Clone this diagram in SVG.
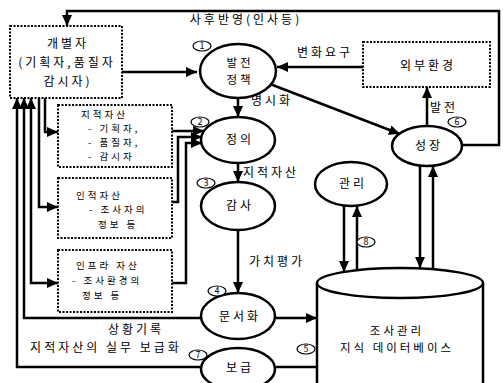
<svg xmlns="http://www.w3.org/2000/svg" width="503" height="383" viewBox="0 0 503 383">
<defs>
<marker id="ah" markerUnits="userSpaceOnUse" markerWidth="11" markerHeight="10" refX="11" refY="5" orient="auto-start-reverse">
<path d="M0,0 L11,5 L0,10 z" fill="#000"/>
</marker>
<style>
.ln{stroke:#000;stroke-width:2.5;fill:none}
.ar{stroke:#000;stroke-width:2.5;fill:none;marker-end:url(#ah)}
.ar2{stroke:#000;stroke-width:2.5;fill:none;marker-start:url(#ah);marker-end:url(#ah)}
.dot{stroke:#000;stroke-width:2;stroke-dasharray:2 1.5;fill:#fff}
.el{stroke:#000;stroke-width:2.5;fill:#fff}
.num{stroke:#000;stroke-width:1.2;fill:#fff}
text{font-family:"Noto Sans CJK KR","Noto Sans",sans-serif;fill:#000}
.t{font-size:12px;text-anchor:middle;letter-spacing:3px}
.t2{font-size:11.5px;text-anchor:middle;letter-spacing:3px}
.s{font-size:9.5px;letter-spacing:3px}
.n{font-size:9px;text-anchor:middle}
</style>
</defs>
<rect width="503" height="383" fill="#fff"/>

<g id="connectors">
<path class="ar" d="M122,72 H197"/>
<path class="ar" d="M363,67 H277"/>
<path class="ar" d="M270,84 L400,134"/>
<path class="ar" d="M238,98 V117"/>
<path class="ar" d="M238,163 V182"/>
<path class="ar" d="M238,230 V293"/>
<path class="ar" d="M276,318 H317"/>
<path class="ln" d="M276,367 H318"/>
<path class="ar" d="M427,127 V87"/>
<path class="ar" d="M420,166 V268"/>
<path class="ar" d="M433,268 V166"/>
<path class="ar" d="M344,206 V272"/>
<path class="ar" d="M357,272 V206"/>
<path class="ar" d="M462,145 H499 V11 H67 V26"/>
<path class="ar" d="M45,98 V132 H58"/>
<path class="ar" d="M39,98 V207 H58"/>
<path class="ar2" d="M31,98 V283 H58"/>
<path class="ar" d="M202,318 H24 V98"/>
<path class="ar" d="M203,367 H17 V98"/>
<path class="ar" d="M172,131 H204"/>
<path class="ar" d="M172,202 H178 V137 H202"/>
<path class="ar" d="M172,283 H186 V143 H202"/>
</g>

<g id="labels">
<text class="t" x="246" y="24">사후반영(인사등)</text>
<text class="t" x="325" y="57">변화요구</text>
<text class="t" x="272" y="105">명시화</text>
<text class="t" x="271" y="177">지적자산</text>
<text class="t" x="277" y="266">가치평가</text>
<text class="t" x="136" y="334">상황기록</text>
<text class="t" x="106" y="352">지적자산의 실무 보급화</text>
<text class="t" x="444" y="112">발전</text>
</g>

<g id="n-individual">
<rect class="dot" x="10" y="26" width="112" height="72"/>
<text class="t" x="68" y="48">개별자</text>
<text class="t" x="67" y="67">(기획자,품질자</text>
<text class="t" x="68" y="86">감시자)</text>
</g>

<g id="n-intellectual">
<rect class="dot" x="58" y="105" width="114" height="62"/>
<text class="s" x="81" y="118">지적자산</text>
<text class="s" x="88" y="132">- 기획자,</text>
<text class="s" x="88" y="146">- 품질자,</text>
<text class="s" x="88" y="160">- 감시자</text>
</g>

<g id="n-human">
<rect class="dot" x="58" y="178" width="114" height="60"/>
<text class="s" x="76" y="199">인적자산</text>
<text class="s" x="89" y="213">- 조사자의</text>
<text class="s" x="98" y="228">정보 등</text>
</g>

<g id="n-infra">
<rect class="dot" x="58" y="250" width="114" height="62"/>
<text class="s" x="76" y="269">인프라 자산</text>
<text class="s" x="72" y="284">- 조사환경의</text>
<text class="s" x="82" y="299">정보 등</text>
</g>

<g id="n-external">
<rect class="dot" x="363" y="42" width="127" height="45"/>
<text class="t" x="428" y="70">외부환경</text>
</g>

<g id="n-policy">
<ellipse class="el" cx="238" cy="71" rx="38" ry="27"/>
<text class="t2" x="240" y="67">발전</text>
<text class="t2" x="240" y="84">정책</text>
<ellipse class="num" cx="202" cy="46" rx="9" ry="5"/>
<text class="n" x="202" y="49">1</text>
</g>

<g id="n-define">
<ellipse class="el" cx="238" cy="140" rx="37" ry="23"/>
<text class="t" x="240" y="144">정의</text>
<ellipse class="num" cx="200" cy="122" rx="9" ry="5"/>
<text class="n" x="200" y="125">2</text>
</g>

<g id="n-audit">
<ellipse class="el" cx="238" cy="206" rx="37" ry="24"/>
<text class="t" x="240" y="210">감사</text>
<ellipse class="num" cx="206" cy="183" rx="9" ry="5"/>
<text class="n" x="206" y="186">3</text>
</g>

<g id="n-document">
<ellipse class="el" cx="238" cy="316" rx="37" ry="23"/>
<text class="t" x="240" y="321">문서화</text>
<ellipse class="num" cx="217" cy="291" rx="9" ry="5"/>
<text class="n" x="217" y="294">4</text>
</g>

<g id="n-spread">
<ellipse class="el" cx="238" cy="369" rx="37" ry="21"/>
<text class="t" x="240" y="372">보급</text>
<ellipse class="num" cx="198" cy="355" rx="9" ry="5"/>
<text class="n" x="198" y="358">7</text>
</g>

<g id="n-growth">
<ellipse class="el" cx="427" cy="146" rx="35" ry="20"/>
<text class="t" x="429" y="150">성장</text>
<ellipse class="num" cx="457" cy="122" rx="9" ry="5"/>
<text class="n" x="457" y="125">6</text>
</g>

<g id="n-manage">
<ellipse class="el" cx="351" cy="184" rx="36" ry="22"/>
<text class="t" x="353" y="188">관리</text>
<ellipse class="num" cx="366" cy="242" rx="9" ry="5"/>
<text class="n" x="366" y="245">8</text>
</g>

<g id="n-db">
<path class="el" d="M317,283 V395 H483 V283"/>
<ellipse class="el" cx="400" cy="283" rx="83" ry="15"/>
<text class="t2" x="397" y="335">조사관리</text>
<text class="t2" x="397" y="352">지식 데이터베이스</text>
<ellipse class="num" cx="306" cy="349" rx="9" ry="5"/>
<text class="n" x="306" y="352">5</text>
</g>
</svg>
